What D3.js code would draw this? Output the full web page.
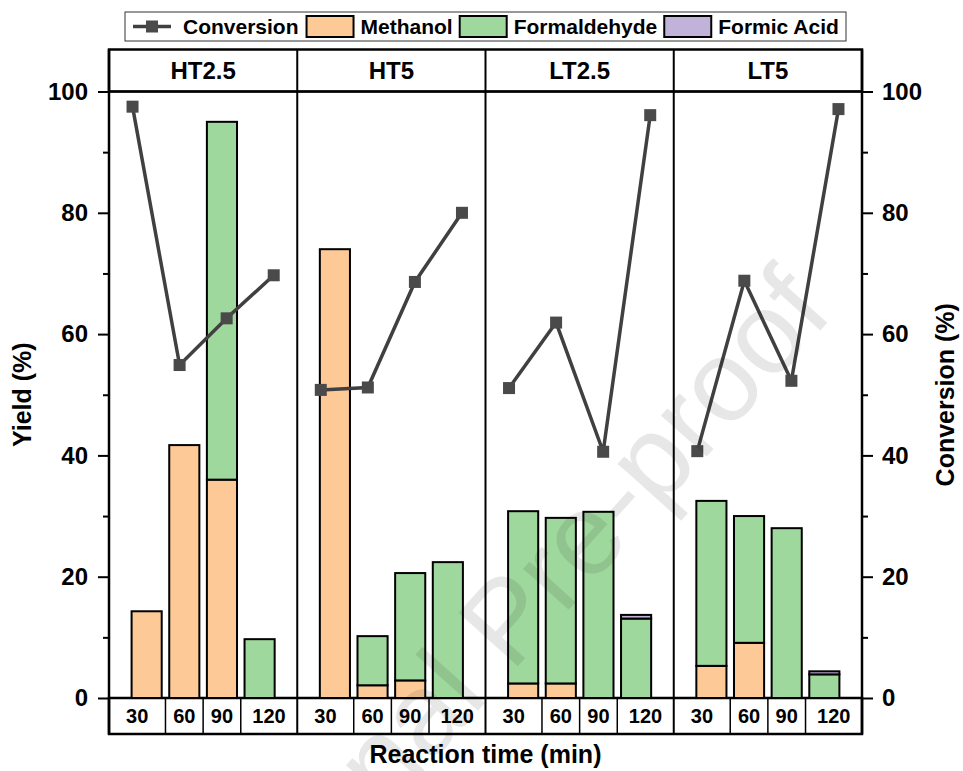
<!DOCTYPE html>
<html>
<head>
<meta charset="utf-8">
<script src="https://cdn.jsdelivr.net/npm/d3@7"></script>
<style>
  body { margin: 0; background: #fff; }
  text { font-family: 'Liberation Sans', Arial, sans-serif; font-weight: bold; fill: #000; }
</style>
</head>
<body>
<div id="graf"></div>
<script>
// Datos
const paneles = ['HT2.5', 'HT5', 'LT2.5', 'LT5']
const tiempos = [30, 60, 90, 120]
const metanol      = [[14.3, 41.7, 36.0, 0], [74.0, 2.1, 2.9, 0], [2.4, 2.4, 0, 0], [5.3, 9.1, 0, 0]]
const formaldehido = [[0, 0, 59.0, 9.7], [0, 8.1, 17.7, 22.4], [28.4, 27.3, 30.7, 13.1], [27.2, 20.9, 28.0, 3.9]]
const formico      = [[0, 0, 0, 0], [0, 0, 0, 0], [0, 0, 0, 0.6], [0, 0, 0, 0.5]]
const conversion   = [[97.5, 54.9, 62.6, 69.7], [50.8, 51.2, 68.6, 80.0], [51.1, 61.9, 40.6, 96.1], [40.7, 68.8, 52.3, 97.1]]
const ticksY = [0, 20, 40, 60, 80, 100]
const ticksMenores = [10, 30, 50, 70, 90]

ancho_total = 963
alto_total  = 771
margins = { top: 91.5, left: 109, right: 101, bottom: 73 }
ancho = ancho_total - margins.left - margins.right
alto  = alto_total - margins.top - margins.bottom
altoCabecera = 42
altoTabla = 36

svg = d3.select('#graf').append('svg')
  .attr('width', ancho_total)
  .attr('height', alto_total)

g = svg.append('g')
  .attr('transform', `translate(${margins.left}, ${margins.top})`)

// Escaladores
xPanel = d3.scaleBand().domain(paneles).range([0, ancho])
xBarra = d3.scaleLinear().domain([0, 150]).range([0, xPanel.bandwidth()])
xLinea = d3.scaleLinear().domain([15, 135]).range([0, xPanel.bandwidth()])
y = d3.scaleLinear().domain([0, 100]).range([alto, 0])
color = d3.scaleOrdinal()
  .domain(['Methanol', 'Formaldehyde', 'Formic Acid'])
  .range(['#fdc996', '#9fd89c', '#c1b2d9'])
anchoBarra = xBarra(24) - xBarra(0)

// Cabeceras y tabla de tiempos
g.append('rect')
  .attr('x', 0).attr('y', -altoCabecera)
  .attr('width', ancho).attr('height', altoCabecera)
  .attr('fill', 'none').attr('stroke', '#000').attr('stroke-width', 2.5)
g.append('rect')
  .attr('x', 0).attr('y', alto)
  .attr('width', ancho).attr('height', altoTabla)
  .attr('fill', 'none').attr('stroke', '#000').attr('stroke-width', 2.5)

bordes = [0, ...d3.pairs(tiempos).map(d => (d[0] + d[1]) / 2), 150]

paneles.forEach((p, i) => {
  let gp = g.append('g').attr('transform', `translate(${xPanel(p)}, 0)`)

  gp.append('text')
    .attr('x', xPanel.bandwidth() / 2)
    .attr('y', -altoCabecera / 2)
    .attr('dy', '0.36em')
    .attr('text-anchor', 'middle')
    .style('font-size', '24px')
    .text(p)

  // celdas de la tabla inferior
  gp.selectAll('.celda')
    .data(bordes.slice(1, -1))
    .join('line')
    .attr('x1', d => xBarra(d)).attr('x2', d => xBarra(d))
    .attr('y1', alto).attr('y2', alto + altoTabla)
    .attr('stroke', '#000').attr('stroke-width', 1.5)
  gp.selectAll('.etiqueta')
    .data(tiempos)
    .join('text')
    .attr('x', (d, j) => xBarra((bordes[j] + bordes[j + 1]) / 2))
    .attr('y', alto + altoTabla / 2)
    .attr('dy', '0.36em')
    .attr('text-anchor', 'middle')
    .style('font-size', '20px')
    .text(d => d)

  // barras apiladas
  let filas = tiempos.map((t, j) => ({
    tiempo: t,
    'Methanol': metanol[i][j],
    'Formaldehyde': formaldehido[i][j],
    'Formic Acid': formico[i][j]
  }))
  let series = d3.stack().keys(color.domain())(filas)
  series.forEach(s => {
    gp.selectAll(null)
      .data(s.filter(d => d[1] > d[0]))
      .join('rect')
      .attr('x', d => xBarra(d.data.tiempo) - anchoBarra / 2)
      .attr('y', d => y(d[1]))
      .attr('width', anchoBarra)
      .attr('height', d => y(d[0]) - y(d[1]))
      .attr('fill', color(s.key))
      .attr('stroke', '#000')
      .attr('stroke-width', 2)
  })

  // linea de conversion
  let puntos = tiempos.map((t, j) => ({ tiempo: t, valor: conversion[i][j] }))
  lineaGen = d3.line().x(d => xLinea(d.tiempo)).y(d => y(d.valor))
  gp.append('path')
    .attr('d', lineaGen(puntos))
    .attr('fill', 'none')
    .attr('stroke', '#404040')
    .attr('stroke-width', 3.5)
  gp.selectAll('.marca')
    .data(puntos)
    .join('rect')
    .attr('x', d => xLinea(d.tiempo) - 6)
    .attr('y', d => y(d.valor) - 6)
    .attr('width', 12).attr('height', 12)
    .attr('fill', '#4a4a4a')

  if (i > 0) {
    gp.append('line')
      .attr('x1', 0).attr('x2', 0)
      .attr('y1', -altoCabecera).attr('y2', alto + altoTabla)
      .attr('stroke', '#000').attr('stroke-width', 2)
  }
})

// Marco del area de graficos
g.append('rect')
  .attr('width', ancho).attr('height', alto)
  .attr('fill', 'none').attr('stroke', '#000').attr('stroke-width', 2)
g.append('line')
  .attr('x1', 0).attr('x2', 0).attr('y1', -altoCabecera).attr('y2', alto + altoTabla)
  .attr('stroke', '#000').attr('stroke-width', 2.5)
g.append('line')
  .attr('x1', ancho).attr('x2', ancho).attr('y1', -altoCabecera).attr('y2', alto + altoTabla)
  .attr('stroke', '#000').attr('stroke-width', 2.5)

// Ejes
function eje(axis, x) {
  let e = g.append('g').attr('transform', `translate(${x}, 0)`).call(axis)
  e.select('.domain').remove()
  e.selectAll('line').attr('stroke', '#000').attr('stroke-width', 2)
  e.selectAll('text').style('font-size', '24px').style('font-family', null)
  return e
}
eje(d3.axisLeft(y).tickValues(ticksY).tickSize(11).tickPadding(10), 0)
eje(d3.axisLeft(y).tickValues(ticksMenores).tickSize(6).tickFormat(''), 0)
eje(d3.axisRight(y).tickValues(ticksY).tickSize(11).tickPadding(9), ancho)
eje(d3.axisRight(y).tickValues(ticksMenores).tickSize(6).tickFormat(''), ancho)

// Titulos de ejes
svg.append('text')
  .attr('x', margins.left + ancho / 2).attr('y', 763)
  .attr('text-anchor', 'middle')
  .style('font-size', '25px')
  .text('Reaction time (min)')
svg.append('text')
  .attr('transform', `translate(31, ${margins.top + alto / 2}) rotate(-90)`)
  .attr('text-anchor', 'middle')
  .style('font-size', '25px')
  .text('Yield (%)')
svg.append('text')
  .attr('transform', `translate(954, ${margins.top + alto / 2}) rotate(-90)`)
  .attr('text-anchor', 'middle')
  .style('font-size', '25px')
  .text('Conversion (%)')

// Leyenda
leyenda = svg.append('g')
leyenda.append('rect')
  .attr('x', 125).attr('y', 12).attr('width', 721).attr('height', 29)
  .attr('fill', '#fff').attr('stroke', '#333').attr('stroke-width', 1)
let lx = 133
leyenda.append('line')
  .attr('x1', lx).attr('x2', lx + 38).attr('y1', 26.5).attr('y2', 26.5)
  .attr('stroke', '#404040').attr('stroke-width', 3.5)
leyenda.append('rect')
  .attr('x', lx + 13).attr('y', 20.5).attr('width', 12).attr('height', 12)
  .attr('fill', '#4a4a4a')
lx += 50
let t = leyenda.append('text').attr('x', lx).attr('y', 34).style('font-size', '21px').text('Conversion')
lx += t.node().getComputedTextLength() + 8
color.domain().forEach(k => {
  leyenda.append('rect')
    .attr('x', lx).attr('y', 16).attr('width', 47).attr('height', 21)
    .attr('fill', color(k)).attr('stroke', '#000').attr('stroke-width', 2)
  lx += 54
  let tt = leyenda.append('text').attr('x', lx).attr('y', 34).style('font-size', '21px').text(k)
  lx += tt.node().getComputedTextLength() + 7
})

// Marca de agua
svg.append('text')
  .attr('transform', 'translate(835, 314) rotate(-48)')
  .attr('text-anchor', 'end')
  .style('font-size', '116px')
  .style('font-weight', 'normal')
  .style('fill', '#000')
  .style('opacity', 0.09)
  .text('Journal Pre-proof')
</script>
</body>
</html>
